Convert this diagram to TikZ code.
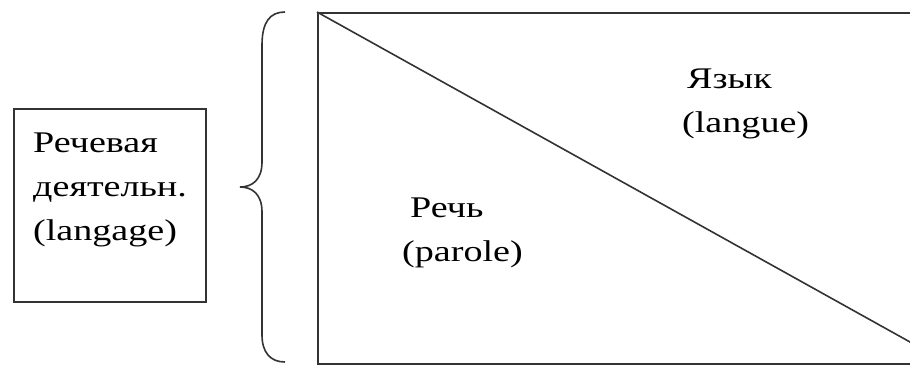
\documentclass[tikz,border=0pt]{standalone}
\usepackage{fontspec}
\setmainfont{Liberation Serif}[FakeStretch=1.27]
\usetikzlibrary{positioning}

\tikzset{
  frame/.style={draw=black!80,line width=1.6pt},
  lbl/.style={anchor=base west,inner sep=0pt,align=left,font=\fontsize{30}{44}\selectfont}
}

\begin{document}
\begin{tikzpicture}[x=1pt,y=-1pt]
\useasboundingbox (0,0) rectangle (910,364);
% left box: speech activity
\node[frame,minimum width=192pt,minimum height=193pt,anchor=north west,inner sep=0pt] (act) at (13,108) {};
\node[lbl] (actlbl) at (33,240) {Речевая\\деятельн.\\(langage)};
% brace
\draw[frame] (285,12) .. controls (270,12) and (262,22) .. (262,45) -- (262,162)
  .. controls (262,180) and (252,187) .. (240,187)
  .. controls (252,187) and (262,194) .. (262,212) -- (262,335)
  .. controls (262,352) and (270,362) .. (285,362);
% field split by the diagonal (cut at the right edge)
\begin{scope}
\clip (0,0) rectangle (910,364);
\node[frame,minimum width=632pt,minimum height=351pt,anchor=north west,inner sep=0pt] (field) at (317,12) {};
\draw[frame] (field.north west) -- (field.south east);
\end{scope}
\node[lbl] (langue) at (682,132) {\hspace*{5pt}Язык\\(langue)};
\node[lbl] (parole) at (402,261) {\hspace*{8pt}Речь\\(parole)};
\end{tikzpicture}
\end{document}
